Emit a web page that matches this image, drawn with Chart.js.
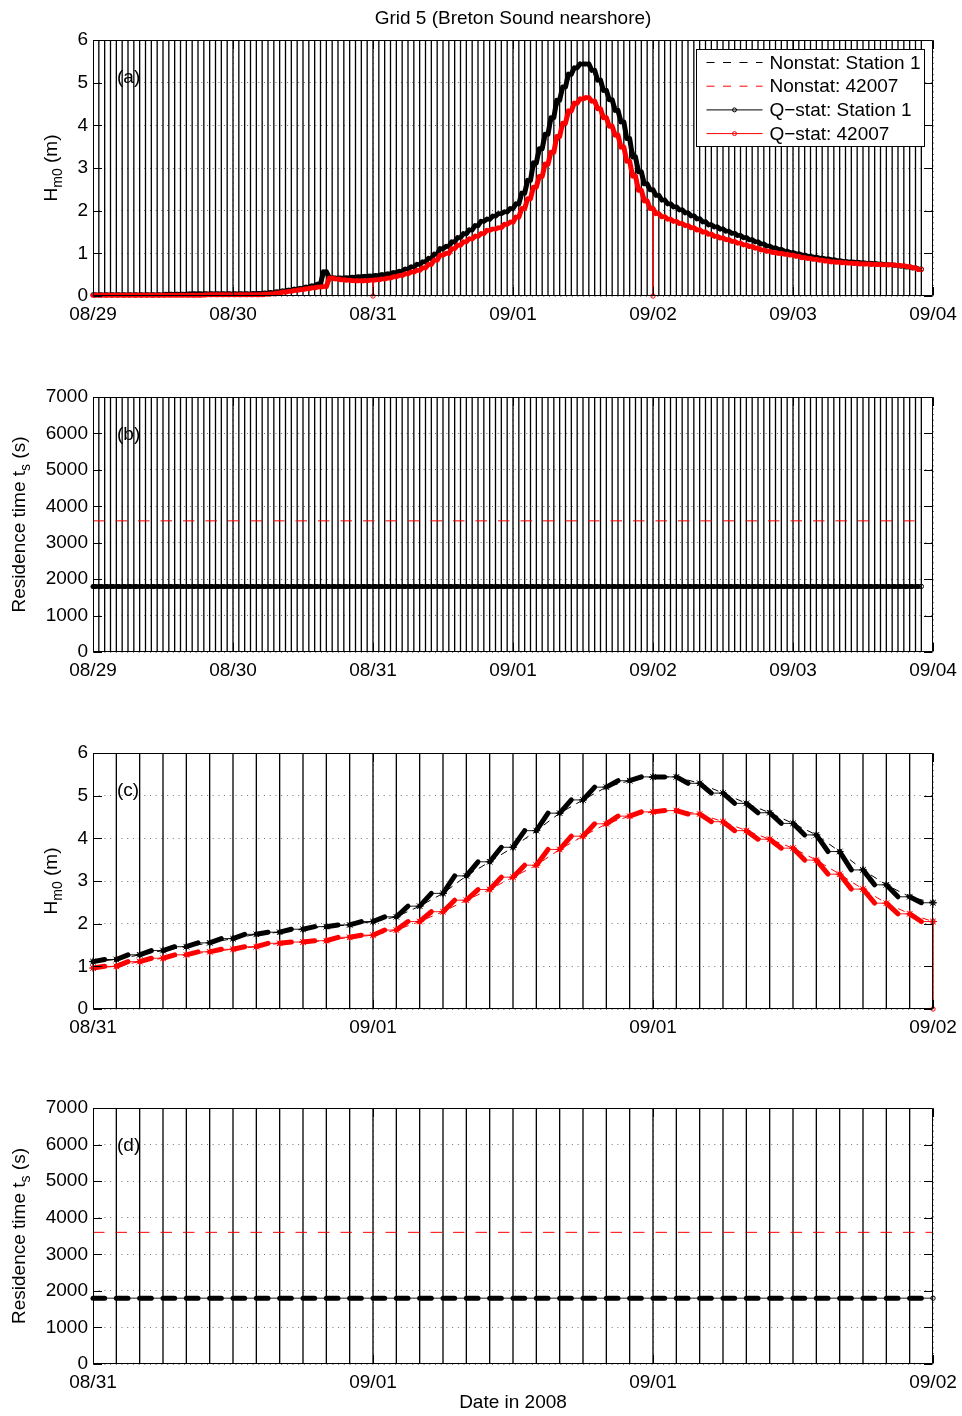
<!DOCTYPE html>
<html>
<head>
<meta charset="utf-8">
<title>Grid 5 (Breton Sound nearshore)</title>
<script src="https://cdn.jsdelivr.net/npm/chart.js@4.4.1/dist/chart.umd.min.js"></script>
<style>
  html, body { margin: 0; padding: 0; background: #fff; }
  #page { position: relative; width: 962px; height: 1416px; overflow: hidden; }
  #page canvas { position: absolute; left: 0; }
</style>
</head>
<body>
<div id="page">
  <canvas id="panelA"></canvas>
  <canvas id="panelB"></canvas>
  <canvas id="panelC"></canvas>
  <canvas id="panelD"></canvas>
</div>
<script>
// ---------------------------------------------------------------------------
// Model output, hourly from 2008-08-29 00:00 (hour 0) to 2008-09-03 22:00 (hour 142)
// ---------------------------------------------------------------------------

// Significant wave height Hm0 (m) at Station 1
const hm0Station1 = [
  0.03, 0.03, 0.03, 0.03, 0.03, 0.03, 0.03, 0.03, 0.03, 0.03,
  0.03, 0.03, 0.03, 0.04, 0.04, 0.04, 0.04, 0.05, 0.05, 0.05,
  0.05, 0.05, 0.05, 0.05, 0.05, 0.05, 0.05, 0.05, 0.06, 0.06,
  0.07, 0.08, 0.10, 0.12, 0.14, 0.16, 0.18, 0.21, 0.24, 0.28,
  0.57, 0.43, 0.42, 0.42, 0.43, 0.44, 0.45, 0.46, 0.47, 0.48,
  0.50, 0.52, 0.55, 0.58, 0.63, 0.68, 0.74, 0.80, 0.88, 0.98,
  1.11, 1.16, 1.27, 1.37, 1.46, 1.55, 1.65, 1.75, 1.80, 1.87,
  1.93, 1.97, 2.05, 2.16, 2.41, 2.71, 3.12, 3.45, 3.79, 4.18,
  4.59, 4.90, 5.20, 5.35, 5.44, 5.44, 5.29, 5.06, 4.82, 4.60,
  4.35, 4.08, 3.69, 3.26, 2.91, 2.63, 2.49, 2.36, 2.25, 2.16,
  2.09, 2.02, 1.95, 1.88, 1.81, 1.74, 1.67, 1.62, 1.57, 1.52,
  1.47, 1.42, 1.37, 1.32, 1.27, 1.22, 1.17, 1.13, 1.09, 1.05,
  1.02, 0.99, 0.96, 0.93, 0.91, 0.89, 0.87, 0.85, 0.83, 0.81,
  0.80, 0.79, 0.78, 0.77, 0.76, 0.75, 0.74, 0.73, 0.72, 0.70,
  0.68, 0.66, 0.63
];

// Significant wave height Hm0 (m) at buoy 42007
const hm042007 = [
  0.02, 0.02, 0.02, 0.02, 0.02, 0.02, 0.02, 0.02, 0.02, 0.02,
  0.02, 0.02, 0.02, 0.02, 0.02, 0.02, 0.02, 0.02, 0.02, 0.02,
  0.03, 0.03, 0.03, 0.03, 0.03, 0.03, 0.03, 0.03, 0.03, 0.03,
  0.04, 0.05, 0.07, 0.09, 0.11, 0.13, 0.15, 0.17, 0.19, 0.21,
  0.22, 0.42, 0.40, 0.38, 0.37, 0.36, 0.36, 0.36, 0.37, 0.38,
  0.40, 0.42, 0.45, 0.48, 0.52, 0.56, 0.60, 0.66, 0.74, 0.84,
  0.96, 1.00, 1.11, 1.19, 1.27, 1.34, 1.40, 1.46, 1.54, 1.57,
  1.60, 1.68, 1.73, 1.85, 2.05, 2.28, 2.55, 2.80, 3.09, 3.37,
  3.74, 4.05, 4.34, 4.52, 4.62, 4.65, 4.57, 4.39, 4.18, 3.98,
  3.77, 3.49, 3.16, 2.81, 2.48, 2.23, 2.05, 1.93, 1.86, 1.80,
  1.75, 1.70, 1.65, 1.60, 1.55, 1.50, 1.45, 1.40, 1.36, 1.32,
  1.28, 1.24, 1.20, 1.16, 1.12, 1.08, 1.05, 1.02, 1.00, 0.98,
  0.96, 0.93, 0.90, 0.88, 0.86, 0.84, 0.82, 0.80, 0.79, 0.78,
  0.77, 0.76, 0.75, 0.75, 0.74, 0.74, 0.73, 0.73, 0.72, 0.71,
  0.69, 0.66, 0.62
];

// Hours where the quasi-stationary 42007 record drops to zero (day boundaries)
const qstatZeroHours42007 = [48, 96];

// Residence times t_s (s)
const tsNonstat42007 = 3600;
const tsQstatStation1 = 1800;

// Series names
const seriesNames = ['Nonstat: Station 1', 'Nonstat: 42007', 'Q\u2212stat: Station 1', 'Q\u2212stat: 42007'];

// Hour index of every output (hours after 2008-08-29 00:00)
const outputHours = hm0Station1.map((_, i) => i);

// ---------------------------------------------------------------------------
const BASE_TIME = Date.UTC(2008, 7, 29, 0, 0);
const HOLD = 0.5;           // part of the hour covered by each quasi-stationary run
const FONT = '"Liberation Sans", Arial, Helvetica, sans-serif';
const FS = 19;
const BLACK = '#000000';
const RED = '#ff0000';

function dayLabel(h) {
  const d = new Date(BASE_TIME + h * 3600e3);
  return String(d.getUTCMonth() + 1).padStart(2, '0') + '/' + String(d.getUTCDate()).padStart(2, '0');
}

// vertical marker at every output hour
function hourMarks(x0, x1, ymax) {
  const pts = [];
  outputHours.forEach(h => {
    if (h >= x0 && h < x1) {
      pts.push({ x: h, y: 0 }, { x: h, y: ymax }, { x: h, y: null });
    }
  });
  return pts;
}

function nonstatSeries(vals, x0, x1) {
  const pts = [];
  outputHours.forEach((h, i) => { if (h >= x0 && h <= x1) pts.push({ x: h, y: vals[i] }); });
  return pts;
}

// quasi-stationary run: each hour holds a short dense run, then a thin link to the next hour
function qstatSeries(vals, zeroHours, x0, x1) {
  const pts = [];
  for (let i = 0; i < outputHours.length; i++) {
    const h = outputHours[i];
    if (h < x0 || h > x1) continue;
    pts.push({ x: h, y: vals[i], w: 'thin' });
    if (zeroHours.includes(h)) {
      pts.push({ x: h, y: 0, w: 'thin', mark: true });
      pts.push({ x: h, y: vals[i], w: 'thin' });
    }
    const n = i + 1;
    if (n < outputHours.length && outputHours[n] <= x1) {
      pts[pts.length - 1].w = 'thick';
      pts.push({ x: h + HOLD, y: vals[n], w: 'thin' });
    } else {
      pts[pts.length - 1].end = true;
    }
  }
  return pts;
}

function qstatDataset(label, pts, color, order) {
  return {
    label, data: pts, order,
    borderColor: color, backgroundColor: color,
    borderWidth: 1, borderCapStyle: 'round', borderJoinStyle: 'round',
    segment: { borderWidth: c => (pts[c.p0DataIndex].w === 'thick' ? 5 : 0.9) },
    pointRadius: c => (c.raw && (c.raw.mark || c.raw.end) ? 2.2 : 0),
    pointBackgroundColor: 'rgba(0,0,0,0)',
    pointBorderColor: color, pointBorderWidth: 1,
    clip: 8, spanGaps: false, tension: 0
  };
}

// ---------------------------------------------------------------------------
// plugins: axes frame with inward ticks, panel text, legend
// ---------------------------------------------------------------------------
const framePlugin = {
  id: 'frame',
  afterDatasetsDraw(chart) {
    const { ctx, chartArea: a, scales: { x, y } } = chart;
    const L = Math.round(a.left) + 0.5, R = Math.round(a.right) - 0.5;
    const T = Math.round(a.top) + 0.5, B = Math.round(a.bottom) - 0.5;
    ctx.save();
    ctx.strokeStyle = BLACK;
    ctx.lineWidth = 1;
    ctx.beginPath();
    ctx.rect(L, T, R - L, B - T);
    const tl = 8.5;
    x.ticks.forEach(t => {
      const px = Math.round(x.getPixelForValue(t.value)) + 0.5;
      ctx.moveTo(px, B); ctx.lineTo(px, B - tl);
      ctx.moveTo(px, T); ctx.lineTo(px, T + tl);
    });
    y.ticks.forEach(t => {
      const py = Math.round(y.getPixelForValue(t.value)) + 0.5;
      ctx.moveTo(L, py); ctx.lineTo(L + tl, py);
      ctx.moveTo(R, py); ctx.lineTo(R - tl, py);
    });
    ctx.stroke();
    ctx.restore();
  }
};

function drawParts(ctx, parts, cx, cy, rotate) {
  ctx.save();
  ctx.translate(cx, cy);
  if (rotate) ctx.rotate(-Math.PI / 2);
  let total = 0;
  parts.forEach(p => {
    ctx.font = (p.sub ? 14 : FS) + 'px ' + FONT;
    p.w = ctx.measureText(p.t).width;
    total += p.w;
  });
  let xx = -total / 2;
  ctx.fillStyle = BLACK;
  ctx.textBaseline = 'alphabetic';
  ctx.textAlign = 'left';
  parts.forEach(p => {
    ctx.font = (p.sub ? 14 : FS) + 'px ' + FONT;
    ctx.fillText(p.t, xx, FS * 0.36 + (p.sub ? 5 : 0));
    xx += p.w;
  });
  ctx.restore();
}

const textPlugin = {
  id: 'panelText',
  afterDraw(chart, args, o) {
    const { ctx, chartArea: a } = chart;
    ctx.save();
    ctx.fillStyle = BLACK;
    ctx.font = FS + 'px ' + FONT;
    ctx.textBaseline = 'middle';
    ctx.textAlign = 'left';
    ctx.fillText(o.tag, a.left + 24, a.top + 38);
    if (o.title) {
      ctx.textAlign = 'center';
      ctx.fillText(o.title, (a.left + a.right) / 2, a.top - 21);
    }
    if (o.xTitle) {
      ctx.textAlign = 'center';
      ctx.fillText(o.xTitle, (a.left + a.right) / 2, a.bottom + 39);
    }
    ctx.restore();
    drawParts(ctx, o.yTitle.map(p => Object.assign({}, p)), o.yTitleX, (a.top + a.bottom) / 2, true);
  }
};

const legendPlugin = {
  id: 'boxLegend',
  afterDraw(chart, args, o) {
    if (!o.show) return;
    const { ctx, chartArea: a } = chart;
    const bx = Math.round(a.right) - 237 + 0.5, by = Math.round(a.top) + 9 + 0.5;
    const bw = 228, bh = 97;
    ctx.save();
    ctx.fillStyle = '#fff';
    ctx.fillRect(bx, by, bw, bh);
    ctx.strokeStyle = BLACK;
    ctx.lineWidth = 1;
    ctx.strokeRect(bx, by, bw, bh);
    const rows = [
      { c: BLACK, dash: [8, 8.5], mark: false },
      { c: RED, dash: [8, 8.5], mark: false },
      { c: BLACK, dash: [], mark: true },
      { c: RED, dash: [], mark: true }
    ];
    rows.forEach((r, i) => {
      const yy = by + 13 + i * 23.7;
      ctx.strokeStyle = r.c;
      ctx.lineWidth = 1;
      ctx.setLineDash(r.dash);
      ctx.beginPath();
      ctx.moveTo(bx + 10, yy);
      ctx.lineTo(bx + 66, yy);
      ctx.stroke();
      ctx.setLineDash([]);
      if (r.mark) {
        ctx.beginPath();
        ctx.arc(bx + 38, yy, 2, 0, Math.PI * 2);
        ctx.stroke();
      }
      ctx.fillStyle = BLACK;
      ctx.font = FS + 'px ' + FONT;
      ctx.textBaseline = 'middle';
      ctx.textAlign = 'left';
      ctx.fillText(seriesNames[i], bx + 73, yy + 1);
    });
    ctx.restore();
  }
};

// ---------------------------------------------------------------------------
// panel layout
// ---------------------------------------------------------------------------
const hmTitle = [{ t: 'H' }, { t: 'm0', sub: true }, { t: ' (m)' }];
const tsTitle = [{ t: 'Residence time t' }, { t: 's', sub: true }, { t: ' (s)' }];

const panels = [
  { id: 'panelA', top: 40, bottom: 296, x0: 0, x1: 144, xStep: 24, yMax: 6, yStep: 1, kind: 'hm', tag: '(a)',
    title: 'Grid 5 (Breton Sound nearshore)', legend: true, yTitle: hmTitle, yTitleX: 50 },
  { id: 'panelB', top: 397, bottom: 652, x0: 0, x1: 144, xStep: 24, yMax: 7000, yStep: 1000, kind: 'ts', tag: '(b)',
    yTitle: tsTitle, yTitleX: 18 },
  { id: 'panelC', top: 753, bottom: 1009, x0: 60, x1: 96, xStep: 12, yMax: 6, yStep: 1, kind: 'hm', tag: '(c)',
    stars: true, yTitle: hmTitle, yTitleX: 50 },
  { id: 'panelD', top: 1108, bottom: 1364, x0: 60, x1: 96, xStep: 12, yMax: 7000, yStep: 1000, kind: 'ts', tag: '(d)',
    xTitle: 'Date in 2008', yTitle: tsTitle, yTitleX: 18 }
];

const PAD_TOP = 40, AXIS_H = 52, AXIS_W = 93, PAD_RIGHT = 29;

panels.forEach(p => {
  const cv = document.getElementById(p.id);
  const h = PAD_TOP + (p.bottom - p.top) + AXIS_H;
  cv.width = 962; cv.height = h;
  cv.style.width = '962px'; cv.style.height = h + 'px';
  cv.style.top = (p.top - PAD_TOP) + 'px';

  const datasets = [];
  const lastOut = outputHours[outputHours.length - 1];
  const hi = Math.min(p.x1, lastOut);

  if (p.kind === 'hm') {
    const q42 = qstatSeries(hm042007, qstatZeroHours42007, p.x0, hi);
    const q1 = qstatSeries(hm0Station1, [], p.x0, hi);
    datasets.push(qstatDataset(seriesNames[3], q42, RED, 0));
    datasets.push(qstatDataset(seriesNames[2], q1, BLACK, 1));
    [[hm042007, RED, 2, seriesNames[1]], [hm0Station1, BLACK, 3, seriesNames[0]]].forEach(([vals, col, ord, name]) => {
      datasets.push({
        label: name, data: nonstatSeries(vals, p.x0, hi), order: ord,
        borderColor: col, backgroundColor: col, borderWidth: 1, borderDash: [7, 6],
        pointStyle: 'star', pointRadius: p.stars ? 4 : 0, pointBorderColor: col, pointBorderWidth: 1,
        pointBackgroundColor: col, clip: 6, tension: 0
      });
    });
  } else {
    const tsQ = outputHours.map(() => tsQstatStation1);
    const tsN = outputHours.map(() => tsNonstat42007);
    datasets.push(qstatDataset(seriesNames[2], qstatSeries(tsQ, [], p.x0, hi), BLACK, 1));
    datasets.push({
      label: seriesNames[1], data: nonstatSeries(tsN, p.x0, hi), order: 2,
      borderColor: RED, borderWidth: 1, borderDash: [11.5, 11], pointRadius: 0, tension: 0
    });
  }
  datasets.push({
    label: 'output hours', data: hourMarks(p.x0, p.x1, p.yMax), order: 9,
    borderColor: BLACK, borderWidth: 1.3, pointRadius: 0, spanGaps: false, tension: 0, clip: 0
  });

  new Chart(cv, {
    type: 'line',
    data: { datasets },
    options: {
      responsive: false,
      animation: false,
      events: [],
      parsing: true,
      layout: { padding: { top: PAD_TOP, right: PAD_RIGHT, bottom: 0, left: 0 } },
      plugins: {
        legend: { display: false },
        tooltip: { enabled: false },
        frame: {},
        panelText: { tag: p.tag, title: p.title, xTitle: p.xTitle, yTitle: p.yTitle, yTitleX: p.yTitleX },
        boxLegend: { show: !!p.legend }
      },
      scales: {
        x: {
          type: 'linear', min: p.x0, max: p.x1,
          ticks: { stepSize: p.xStep, autoSkip: false, maxRotation: 0, padding: 7, color: BLACK,
                   font: { family: FONT, size: FS }, callback: v => dayLabel(v) },
          grid: { color: 'rgba(0,0,0,0.55)', lineWidth: 1, drawTicks: false },
          border: { display: false, dash: [1, 4.7] },
          afterFit: s => { s.height = AXIS_H; s.paddingLeft = 0; s.paddingRight = 0; }
        },
        y: {
          type: 'linear', min: 0, max: p.yMax,
          ticks: { stepSize: p.yStep, autoSkip: false, padding: 5, color: BLACK,
                   font: { family: FONT, size: FS }, callback: v => String(v) },
          grid: { color: 'rgba(0,0,0,0.55)', lineWidth: 1, drawTicks: false },
          border: { display: false, dash: [1, 4.7] },
          afterFit: s => { s.width = AXIS_W; s.paddingTop = 0; s.paddingBottom = 0; }
        }
      }
    },
    plugins: [framePlugin, textPlugin, legendPlugin]
  });
});
</script>
</body>
</html>
